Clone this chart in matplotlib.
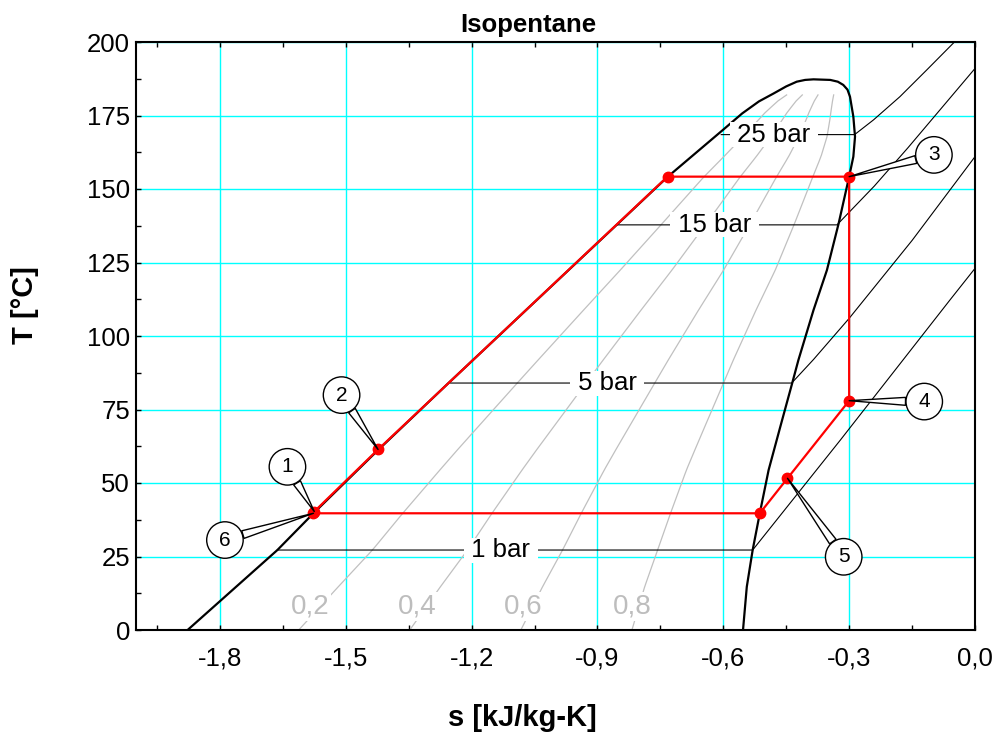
import numpy as np
import matplotlib
matplotlib.use("Agg")
import matplotlib.pyplot as plt
from matplotlib.ticker import MultipleLocator, AutoMinorLocator, FuncFormatter

plt.rcParams['font.family'] = ['Liberation Sans', 'DejaVu Sans']

# ---------------- data ----------------
# saturated liquid line (bottom -> critical region)
sat_liq_s = [-1.877, -1.663, -1.577, -1.423, -1.255, -0.852, -0.733, -0.600,
             -0.555, -0.515, -0.480, -0.450, -0.425, -0.405, -0.385]
sat_liq_T = [0.0, 27.2, 39.7, 61.2, 84.0, 138.1, 154.1, 170.2,
             175.7, 179.8, 182.5, 184.9, 186.5, 187.1, 187.3]
# saturated vapour line (critical region -> bottom)
sat_vap_s = [-0.345, -0.327, -0.314, -0.304, -0.298, -0.290, -0.286, -0.290,
             -0.300, -0.325, -0.353, -0.385, -0.421, -0.437, -0.464, -0.492,
             -0.513, -0.530, -0.544, -0.553]
sat_vap_T = [187.1, 186.5, 185.4, 183.8, 181.4, 174.6, 167.8, 161.0,
             154.2, 138.3, 122.4, 108.8, 91.8, 83.3, 69.2, 54.4,
             39.7, 27.2, 14.7, 0.0]

# vapour quality lines
quality_levels = [0.2, 0.4, 0.6, 0.8]
quality_labels = ["0,2", "0,4", "0,6", "0,8"]
quality_label_s = [-1.585, -1.329, -1.077, -0.817]
quality_label_T = 7.9
quality_T_max = 182.0

# isobars
isobar_names = ["1 bar", "5 bar", "15 bar", "25 bar"]
iso_1bar_s = [-1.663, -0.530, -0.321, -0.060, 0.0]
iso_1bar_T = [27.2, 27.2, 64.6, 112.2, 123.0]
iso_5bar_s = [-1.250, -0.437, -0.385, -0.300, -0.150, 0.0]
iso_5bar_T = [84.0, 84.0, 92.0, 106.0, 132.5, 161.0]
iso_15bar_s = [-0.852, -0.329, -0.240, -0.160, -0.080, 0.0]
iso_15bar_T = [137.8, 137.8, 151.0, 164.0, 177.5, 191.0]
iso_25bar_s = [-0.605, -0.287, -0.242, -0.179, -0.115, -0.049]
iso_25bar_T = [168.5, 168.5, 173.5, 181.4, 190.5, 200.0]
isobar_label_s = [-1.131, -0.877, -0.621, -0.480]

# ORC cycle states (path order)
cycle_s = [-1.575, -1.423, -0.733, -0.300, -0.300, -0.447, -0.513, -1.577]
cycle_T = [40.3, 61.4, 154.2, 154.2, 78.0, 51.6, 39.7, 39.7]

# numbered callouts: label, cycle state index, bubble position
callout_labels = ["1", "2", "3", "4", "5", "6"]
callout_state = [0, 1, 3, 4, 5, 7]
callout_s = [-1.639, -1.510, -0.098, -0.121, -0.313, -1.788]
callout_T = [55.5, 79.9, 161.6, 77.7, 24.9, 30.6]

x_ticks_major = 0.3
y_ticks_major = 25

# ---------------- figure ----------------
fig = plt.figure(figsize=(9.97, 7.40), dpi=100)
ax = fig.add_axes([136 / 997, 110 / 740, 839 / 997, 588 / 740])
ax.set_xlim(-2.0, 0.0)
ax.set_ylim(0, 200)

ax.set_axisbelow(True)
ax.grid(True, which='major', color='#00FFFF', lw=1.0)

# quality lines
T_grid = np.linspace(0, quality_T_max, 90)
sl = np.interp(T_grid, sat_liq_T, sat_liq_s)
sv = np.interp(T_grid, sat_vap_T[::-1], sat_vap_s[::-1])
for q in quality_levels:
    ax.plot(sl + q * (sv - sl), T_grid, color='#c0c0c0', lw=0.9, zorder=1.5)
for lbl, xs in zip(quality_labels, quality_label_s):
    ax.text(xs, quality_label_T, lbl, color='#bdbdbd', fontsize=20,
            ha='center', va='center', zorder=2,
            bbox=dict(boxstyle='square,pad=0.05', fc='white', ec='none'))

# isobars
iso_s = [iso_1bar_s, iso_5bar_s, iso_15bar_s, iso_25bar_s]
iso_T = [iso_1bar_T, iso_5bar_T, iso_15bar_T, iso_25bar_T]
for s_vals, T_vals in zip(iso_s, iso_T):
    ax.plot(s_vals, T_vals, color='black', lw=0.8, zorder=2.5)

# saturation dome
ax.plot(sat_liq_s + sat_vap_s, sat_liq_T + sat_vap_T, color='black', lw=1.6,
        zorder=3, solid_joinstyle='round')

# isobar labels
for name, xs, T_vals in zip(isobar_names, isobar_label_s, iso_T):
    ax.text(xs, T_vals[0], " " + name + " ", fontsize=18.5, ha='center',
            va='center', zorder=4,
            bbox=dict(boxstyle='square,pad=0.02', fc='white', ec='none'))

# cycle
ax.plot(cycle_s, cycle_T, color='red', lw=1.6, zorder=5)
ax.plot(cycle_s, cycle_T, 'o', color='red', ms=7.5, zorder=6)

# callouts
for lbl, idx, cs, cT in zip(callout_labels, callout_state, callout_s, callout_T):
    ax.annotate(lbl, xy=(cycle_s[idx], cycle_T[idx]), xytext=(cs, cT),
                ha='center', va='center', fontsize=15, zorder=7,
                bbox=dict(boxstyle='circle,pad=0.42', fc='white', ec='black', lw=1),
                arrowprops=dict(arrowstyle='wedge,tail_width=0.38,shrink_factor=0.5',
                                fc='white', ec='black', lw=1,
                                shrinkA=0, shrinkB=0))

# axes styling
ax.xaxis.set_major_locator(MultipleLocator(x_ticks_major))
ax.xaxis.set_minor_locator(AutoMinorLocator(2))
ax.yaxis.set_major_locator(MultipleLocator(y_ticks_major))
ax.yaxis.set_minor_locator(AutoMinorLocator(2))
ax.xaxis.set_major_formatter(FuncFormatter(lambda v, p: f"{v:.1f}".replace('.', ',')))
ax.yaxis.set_major_formatter(FuncFormatter(lambda v, p: f"{v:.0f}"))
ax.tick_params(axis='both', which='both', direction='in', top=True, right=False,
               length=3.5, width=1, labelsize=18.5)
ax.tick_params(axis='x', which='major', pad=12)
ax.tick_params(axis='y', which='major', pad=4.3)
for sp in ax.spines.values():
    sp.set_linewidth(1.5)

fig.text(528 / 997, 1 - 25 / 740, "Isopentane", fontsize=18.5, fontweight='bold',
         ha='center', va='center')
fig.text(522 / 997, 1 - 718 / 740, "s [kJ/kg-K]", fontsize=21, fontweight='bold',
         ha='center', va='center')
fig.text(25 / 997, 1 - 305 / 740, "T [°C]", fontsize=21, fontweight='bold',
         ha='center', va='center', rotation=90)

fig.savefig("out.png", dpi=100)
